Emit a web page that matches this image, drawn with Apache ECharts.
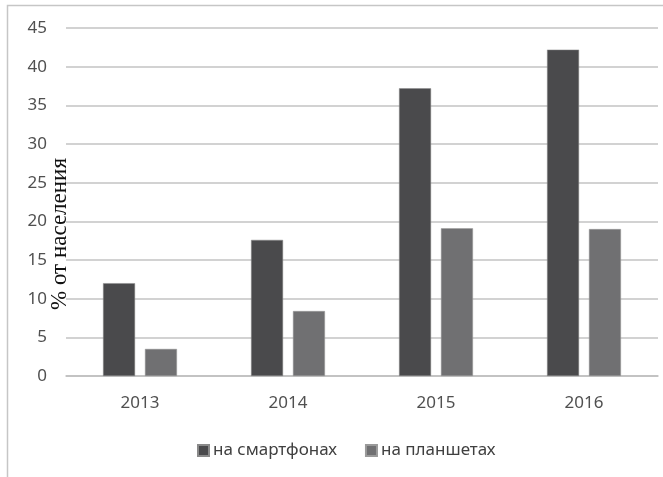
<!DOCTYPE html>
<html>
<head>
<meta charset="utf-8">
<script src="https://cdn.jsdelivr.net/npm/echarts@6/dist/echarts.min.js"></script>
<style>
  html, body { margin: 0; padding: 0; background: #fff; }
  #chart { width: 663px; height: 477px; }
</style>
</head>
<body>
<div id="chart"></div>
<script>
var years = ['2013', '2014', '2015', '2016'];
var smartphones = [12.0, 17.6, 37.2, 42.2];
var tablets = [3.5, 8.4, 19.1, 19.0];
var seriesNames = ['на смартфонах', 'на планшетах'];
var axisTitle = '% от населения';

echarts.init(document.getElementById('chart')).setOption({
  backgroundColor: '#fff',
  animation: false,
  color: ['#4a4a4c', '#707072'],
  textStyle: { fontFamily: 'Noto Sans' },
  grid: { left: 66, right: 5, top: 28, bottom: 101 },
  legend: {
    data: seriesNames,
    top: 437,
    left: 192,
    itemWidth: 11,
    itemHeight: 11,
    itemGap: 28,
    icon: 'rect',
    textStyle: { fontSize: 17, color: '#404040', padding: [0, 0, 0, -1] }
  },
  graphic: [
    {
      type: 'rect',
      shape: { x: 7.5, y: 5.5, width: 800, height: 600 },
      style: { fill: 'none', stroke: '#c6c6c6', lineWidth: 1.5 },
      silent: true
    },
    {
      type: 'text',
      x: 60,
      y: 234,
      rotation: Math.PI / 2,
      z: 100,
      style: {
        text: axisTitle,
        font: '23px "Liberation Serif"',
        fill: '#111',
        textAlign: 'center',
        textVerticalAlign: 'middle'
      }
    }
  ],
  xAxis: {
    type: 'category',
    data: years,
    axisTick: { show: false },
    axisLine: { lineStyle: { color: '#bfbfbf', width: 1.5 } },
    axisLabel: { fontSize: 17, color: '#505050', margin: 19 }
  },
  yAxis: {
    type: 'value',
    min: 0,
    max: 45,
    interval: 5,
    axisLine: { show: false },
    axisTick: { show: false },
    splitLine: { lineStyle: { color: '#c3c3c3', width: 1.5 } },
    axisLabel: { fontSize: 17, color: '#505050', margin: 19 }
  },
  series: [
    {
      name: seriesNames[0],
      type: 'bar',
      data: smartphones,
      barWidth: 32,
      barGap: '31%',
      itemStyle: { borderColor: '#8a8a8a', borderWidth: 0.5 }
    },
    {
      name: seriesNames[1],
      type: 'bar',
      data: tablets,
      barWidth: 32,
      itemStyle: { borderColor: '#9a9a9a', borderWidth: 0.5 }
    }
  ]
});
</script>
</body>
</html>
